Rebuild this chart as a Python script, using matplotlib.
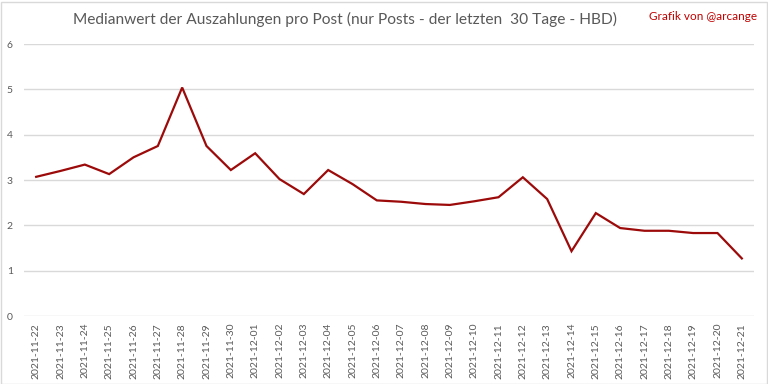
import matplotlib.pyplot as plt
from matplotlib.patches import Rectangle

dates = ['2021-11-22', '2021-11-23', '2021-11-24', '2021-11-25', '2021-11-26',
         '2021-11-27', '2021-11-28', '2021-11-29', '2021-11-30', '2021-12-01',
         '2021-12-02', '2021-12-03', '2021-12-04', '2021-12-05', '2021-12-06',
         '2021-12-07', '2021-12-08', '2021-12-09', '2021-12-10', '2021-12-11',
         '2021-12-12', '2021-12-13', '2021-12-14', '2021-12-15', '2021-12-16',
         '2021-12-17', '2021-12-18', '2021-12-19', '2021-12-20', '2021-12-21']
values = [3.07, 3.20, 3.34, 3.13, 3.50, 3.75, 5.04, 3.75, 3.22, 3.59,
          3.02, 2.69, 3.22, 2.91, 2.55, 2.52, 2.47, 2.45, 2.53, 2.62,
          3.06, 2.58, 1.43, 2.27, 1.94, 1.88, 1.88, 1.83, 1.83, 1.27]
yticks = [0, 1, 2, 3, 4, 5, 6]

plt.rcParams['font.family'] = ['Lato', 'DejaVu Sans']

fig = plt.figure(figsize=(7.68, 3.84), dpi=100)
ax = fig.add_axes([24 / 768, 1 - 316 / 384, 730 / 768, 272 / 384])

x = list(range(len(dates)))
ax.plot(x, values, color='#9c0a0a', linewidth=1.6, solid_joinstyle='miter')

ax.set_xlim(-0.5, len(dates) - 0.5)
ax.set_ylim(0, 6)
ax.set_yticks(yticks)
ax.set_xticks(x)
ax.set_xticklabels(dates, rotation=90)
ax.tick_params(axis='both', length=0, labelsize=7.5, colors='#595959')
ax.tick_params(axis='x', pad=5)
ax.tick_params(axis='y', pad=8)
ax.grid(axis='y', color='#d9d9d9', linewidth=1)
ax.set_axisbelow(True)
for s in ax.spines.values():
    s.set_visible(False)

fig.text(345 / 768, 1 - 19 / 384, 'Medianwert der Auszahlungen pro Post (nur Posts - der letzten  30 Tage - HBD)',
         ha='center', va='center', fontsize=11.2, color='#595959')
fig.text(757 / 768, 1 - 17 / 384, 'Grafik von @arcange', ha='right', va='center',
         fontsize=8.5, color='#c00000')

# light border around the figure
fig.patches.append(Rectangle((0.5 / 768, 0.5 / 384), 766 / 768, 382 / 384, transform=fig.transFigure,
                             fill=False, edgecolor='#d9d9d9', linewidth=1))

fig.savefig('out.png', dpi=100)
